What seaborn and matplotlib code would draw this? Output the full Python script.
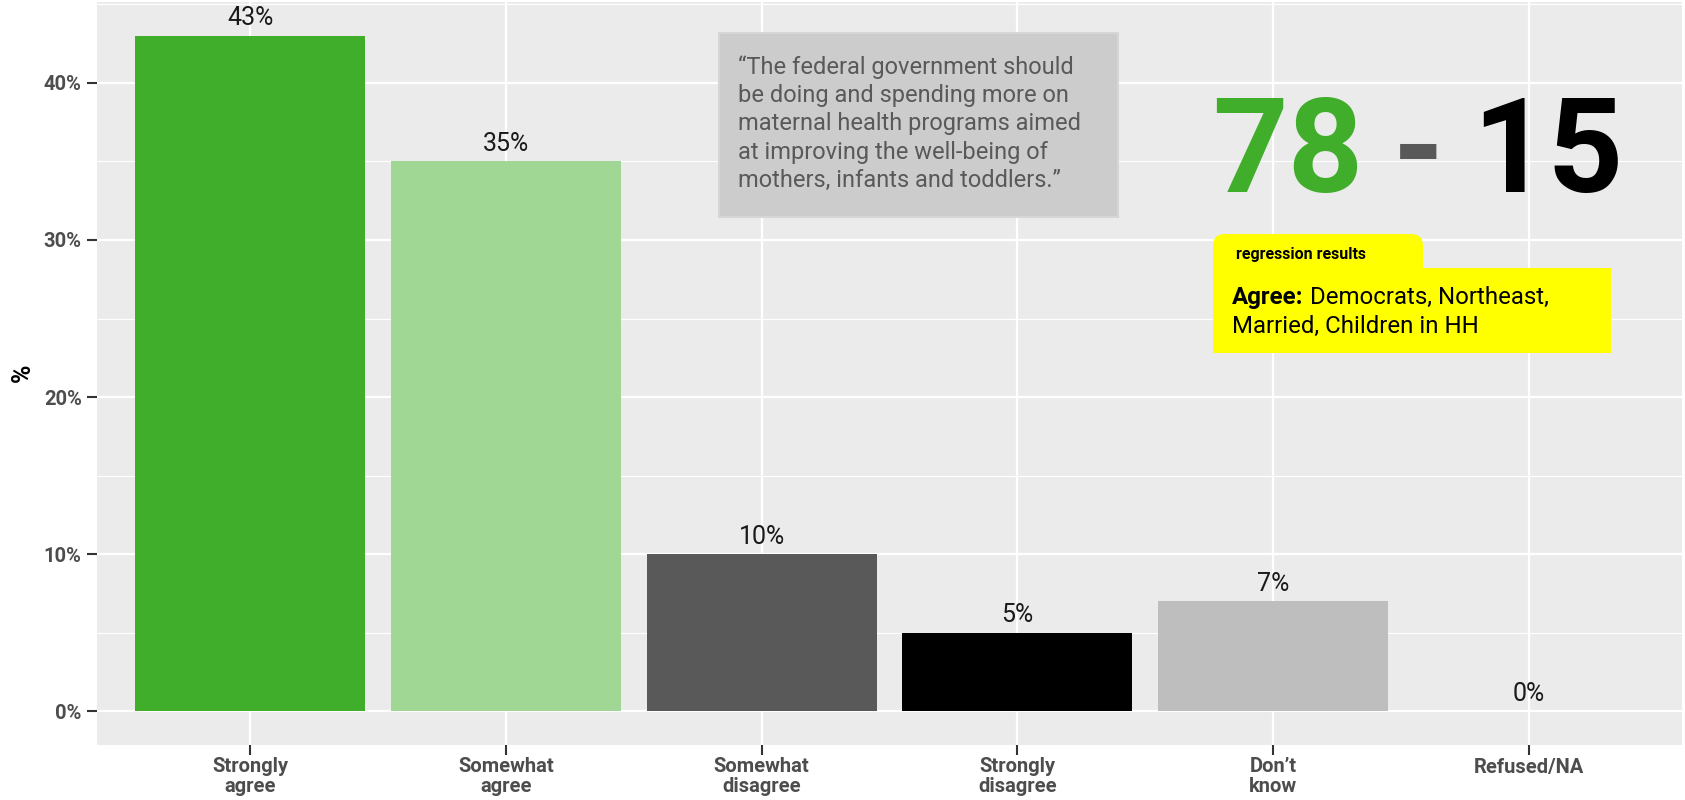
import matplotlib
matplotlib.use("Agg")
import matplotlib.pyplot as plt
from matplotlib.patches import Rectangle, FancyBboxPatch
import seaborn as sns
import pandas as pd

categories = ["Strongly\nagree", "Somewhat\nagree", "Somewhat\ndisagree",
              "Strongly\ndisagree", "Don\u2019t\nknow", "Refused/NA"]
values = [43, 35, 10, 5, 7, 0]
bar_colors = ["#40AE2B", "#A0D794", "#595959", "#000000", "#BEBEBE", "#BEBEBE"]
y_ticks = [0, 10, 20, 30, 40]
y_tick_labels = ["0%", "10%", "20%", "30%", "40%"]
quote = ("\u201cThe federal government should\nbe doing and spending more on\n"
         "maternal health programs aimed\nat improving the well-being of\n"
         "mothers, infants and toddlers.\u201d")
agree_total, disagree_total = "78", "15"

sns.set_theme(style="white")
plt.rcParams['font.family'] = ['Roboto', 'DejaVu Sans']

W, H = 1685, 800
fig = plt.figure(figsize=(W / 100, H / 100), dpi=100)
L, R, T, B = 97, 1682, 2, 745
ax = fig.add_axes([L / W, 1 - B / H, (R - L) / W, (B - T) / H])

df = pd.DataFrame({"cat": categories, "val": values})
sns.barplot(data=df, x="cat", y="val", hue="cat", palette=bar_colors,
            width=0.9, legend=False, ax=ax, saturation=1, zorder=3,
            edgecolor="none", linewidth=0)

ax.set_facecolor("#EBEBEB")
ax.set_xlim(-0.6, len(categories) - 0.4)
ax.set_ylim(-2.15, 45.15)
ax.set_yticks(y_ticks)
ax.set_yticklabels(y_tick_labels)
ax.set_yticks([5, 15, 25, 35, 45], minor=True)
ax.grid(True, which="major", color="white", linewidth=1.6, zorder=0)
ax.grid(True, which="minor", axis="y", color="white", linewidth=0.8, zorder=0)
ax.set_axisbelow(True)
for s in ax.spines.values():
    s.set_visible(False)
ax.tick_params(axis="both", which="major", length=7, width=1.5, color="#333333",
               labelcolor="#4D4D4D", labelsize=14.5, pad=4, bottom=True, left=True)
ax.tick_params(axis="x", which="major", pad=2)
ax.tick_params(axis="both", which="minor", length=0)
for lab in ax.get_xticklabels() + ax.get_yticklabels():
    lab.set_fontweight("bold")
for lab in ax.get_xticklabels():
    lab.set_linespacing(1.05)
ax.set_xlabel("")
ax.set_ylabel("")

def P(x, y):
    return (x / 100, (H - y) / 100)

tr = fig.dpi_scale_trans

fig.text(*P(23, 373), "%", transform=tr, rotation=90, ha="center", va="center",
         fontsize=18, fontweight="bold", color="black")

for cont, v in zip(ax.containers, values):
    ax.bar_label(cont, labels=[f"{v}%"], padding=4, fontsize=18, color="#1A1A1A")

# quote box
x0, y0 = P(719, 217)
fig.add_artist(Rectangle((x0, y0), (1118 - 719) / 100, (217 - 33) / 100, transform=tr,
                         facecolor="#CCCCCC", edgecolor="#D6D6D6", linewidth=1.5, zorder=5))
fig.text(*P(738, 55), quote, transform=tr, ha="left", va="top", fontsize=17,
         color="#595959", linespacing=1.3, zorder=6)

# big numbers
fig.text(*P(1212, 192), agree_total, transform=tr, ha="left", va="baseline",
         fontsize=95, fontweight="bold", color="#40AE2B", zorder=6)
fig.text(*P(1418, 192), "-", transform=tr, ha="center", va="baseline",
         fontsize=95, fontweight="bold", color="#595959", zorder=6)
fig.text(*P(1472, 192), disagree_total, transform=tr, ha="left", va="baseline",
         fontsize=95, fontweight="bold", color="black", zorder=6)

# yellow box
tx, ty = P(1213, 300)
fig.add_artist(FancyBboxPatch((tx, ty), (1423 - 1213) / 100, (300 - 234) / 100,
                              boxstyle="round,pad=0,rounding_size=0.12", transform=tr,
                              facecolor="#FFFF00", edgecolor="none", zorder=5))
mx, my = P(1213, 353)
fig.add_artist(Rectangle((mx, my), (1611 - 1213) / 100, (353 - 268) / 100, transform=tr,
                         facecolor="#FFFF00", edgecolor="none", zorder=5))
fig.text(*P(1236, 254), "regression results", transform=tr, ha="left", va="center",
         fontsize=11.5, fontweight="bold", color="black", zorder=6)

fig.canvas.draw()
rend = fig.canvas.get_renderer()
t1 = fig.text(*P(1232, 304), "Agree:", transform=tr, ha="left", va="baseline",
              fontsize=17.3, fontweight="bold", color="black", zorder=6)
bb = t1.get_window_extent(renderer=rend)
fig.text((bb.x1 + 6) / 100, P(0, 304)[1], "Democrats, Northeast,", transform=tr,
         ha="left", va="baseline", fontsize=17.3, color="black", zorder=6)
fig.text(*P(1232, 333), "Married, Children in HH", transform=tr, ha="left", va="baseline",
         fontsize=17.3, color="black", zorder=6)

fig.savefig("out.png", dpi=100)
